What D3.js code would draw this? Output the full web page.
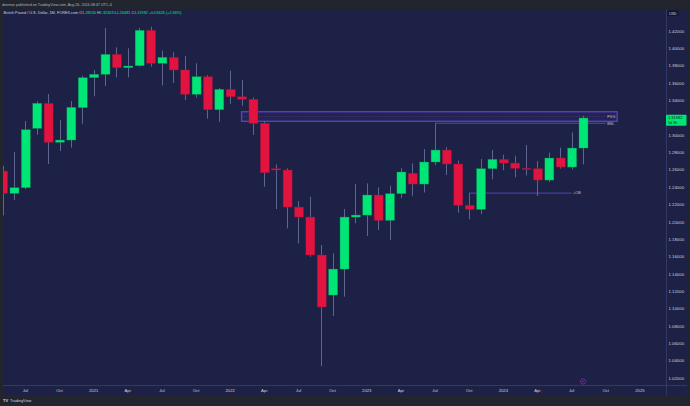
<!DOCTYPE html>
<html>
<head>
<meta charset="utf-8">
<script src="https://cdn.jsdelivr.net/npm/d3@7"></script>
<style>
  html, body { margin: 0; padding: 0; background: #22252d; }
  svg { display: block; font-family: "Liberation Sans", Arial, sans-serif; }
</style>
</head>
<body>
<svg id="chart"></svg>
<script>
// GBP/USD monthly candles
const months = ['2020-05','2020-06','2020-07','2020-08','2020-09','2020-10','2020-11','2020-12',
  '2021-01','2021-02','2021-03','2021-04','2021-05','2021-06','2021-07','2021-08','2021-09','2021-10','2021-11','2021-12',
  '2022-01','2022-02','2022-03','2022-04','2022-05','2022-06','2022-07','2022-08','2022-09','2022-10','2022-11','2022-12',
  '2023-01','2023-02','2023-03','2023-04','2023-05','2023-06','2023-07','2023-08','2023-09','2023-10','2023-11','2023-12',
  '2024-01','2024-02','2024-03','2024-04','2024-05','2024-06','2024-07','2024-08'];
const opens  = [1.2587,1.2330,1.2395,1.3079,1.3367,1.2918,1.2944,1.3317,
  1.3662,1.3701,1.3931,1.3777,1.3800,1.4208,1.3828,1.3897,1.3751,1.3471,1.3674,1.3293,
  1.3528,1.3443,1.3413,1.3137,1.2614,1.2599,1.2172,1.2057,1.1620,1.1159,1.1458,1.2057,
  1.2080,1.2311,1.2019,1.2326,1.2561,1.2437,1.2691,1.2829,1.2668,1.2192,1.2146,1.2614,
  1.2722,1.2679,1.2618,1.2614,1.2483,1.2737,1.2633,1.2852];
const highs  = [1.2648,1.2806,1.3163,1.3390,1.3474,1.3175,1.3393,1.3685,
  1.3751,1.4235,1.4012,1.4001,1.4235,1.4250,1.3973,1.3955,1.3912,1.3828,1.3693,1.3543,
  1.3743,1.3636,1.3436,1.3163,1.2664,1.2618,1.2242,1.2291,1.1735,1.1639,1.2149,1.2437,
  1.2445,1.2400,1.2418,1.2620,1.2676,1.2841,1.3137,1.2860,1.2708,1.2337,1.2725,1.2829,
  1.2775,1.2763,1.2887,1.2702,1.2798,1.2856,1.3033,1.3224];
const lows   = [1.2076,1.2253,1.2380,1.3005,1.2668,1.2817,1.2856,1.3132,
  1.3448,1.3566,1.3667,1.3667,1.3790,1.3789,1.3574,1.3601,1.3405,1.3432,1.3190,1.3155,
  1.3360,1.3340,1.3002,1.2406,1.2149,1.1927,1.1754,1.1600,1.0340,1.0917,1.1140,1.1985,
  1.1838,1.1907,1.1792,1.2273,1.2302,1.2340,1.2656,1.2541,1.2107,1.2031,1.2092,1.2493,
  1.2596,1.2515,1.2536,1.2299,1.2460,1.2615,1.2605,1.2664];
const closes = [1.2330,1.2395,1.3063,1.3367,1.2918,1.2944,1.3321,1.3662,
  1.3701,1.3931,1.3777,1.3797,1.4208,1.3828,1.3897,1.3751,1.3471,1.3674,1.3293,1.3528,
  1.3443,1.3413,1.3137,1.2568,1.2599,1.2172,1.2057,1.1620,1.1021,1.1458,1.2057,1.2080,
  1.2311,1.2019,1.2326,1.2576,1.2437,1.2691,1.2829,1.2668,1.2192,1.2146,1.2614,1.2722,
  1.2679,1.2618,1.2614,1.2483,1.2737,1.2633,1.2852,1.3198];

// axis ticks (1.32000 sits under the last-price tag, so it is not shown)
const priceTicks = [1.02,1.04,1.06,1.08,1.10,1.12,1.14,1.16,1.18,1.20,1.22,1.24,1.26,1.28,1.30,1.34,1.36,1.38,1.40,1.42];
const timeTicks = ['2020-07','2020-10','2021-01','2021-04','2021-07','2021-10','2022-01','2022-04','2022-07','2022-10',
  '2023-01','2023-04','2023-07','2023-10','2024-01','2024-04','2024-07','2024-10','2025-01'];
const timeTickLabels = ['Jul','Oct','2021','Apr','Jul','Oct','2022','Apr','Jul','Oct',
  '2023','Apr','Jul','Oct','2024','Apr','Jul','Oct','2025'];

// drawings: [start month, end month, top price, bottom price]
const fvgZone = ['2022-02','2024-11',1.3270,1.3160];
// [start month, end month, price, label]
const levels = [['2023-07','2024-10',1.3137,'BSL'],['2023-10','2024-07',1.2333,'+OB']];
const lastPrice = 1.31982;

const W = 690, H = 406;
const pane = {left: 3, top: 9, right: 666, bottom: 385};
const green = '#00e676', red = '#e3133f', bg = '#1d2145';

const monthIndex = m => { const [y, mo] = m.split('-').map(Number); return y * 12 + mo - 1; };

const svg = d3.select('#chart').attr('width', W).attr('height', H);

// Scales: TradingView spaces bars evenly, so months map linearly
const x = d3.scaleLinear()
  .domain([monthIndex('2020-10'), monthIndex('2025-01')])
  .range([59.5, 639.9]);
const y = d3.scaleLinear()
  .domain([1.02, 1.42])
  .range([378.3, 31]);
const step = x(1) - x(0);
const bodyW = step * 0.79;

// Panels
svg.append('rect').attr('width', W).attr('height', H).attr('fill', '#22252d');
svg.append('rect').attr('x', pane.left).attr('y', pane.top)
  .attr('width', 687 - pane.left).attr('height', 395 - pane.top).attr('fill', bg);
svg.append('line').attr('x1', pane.right + 0.5).attr('x2', pane.right + 0.5)
  .attr('y1', pane.top).attr('y2', 395).attr('stroke', '#313866');
svg.append('line').attr('x1', pane.left).attr('x2', 687)
  .attr('y1', pane.bottom + 0.5).attr('y2', pane.bottom + 0.5).attr('stroke', '#313866');

svg.append('defs').append('clipPath').attr('id', 'plot')
  .append('rect').attr('x', pane.left).attr('y', pane.top)
  .attr('width', pane.right - pane.left).attr('height', pane.bottom - pane.top);

const plot = svg.append('g').attr('clip-path', 'url(#plot)');

const candles = months.map((m, i) => ({m, o: opens[i], h: highs[i], l: lows[i], c: closes[i]}));

// FVG zone
const fz = plot.append('g');
fz.append('rect')
  .attr('x', x(monthIndex(fvgZone[0])))
  .attr('y', y(fvgZone[2]))
  .attr('width', x(monthIndex(fvgZone[1])) - x(monthIndex(fvgZone[0])))
  .attr('height', y(fvgZone[3]) - y(fvgZone[2]))
  .attr('fill', 'rgba(94,53,177,0.12)')
  .attr('stroke', '#5a3fc0').attr('stroke-width', 1.4);
fz.append('line')
  .attr('x1', x(monthIndex(fvgZone[0]))).attr('x2', x(monthIndex(fvgZone[1])) - 12)
  .attr('y1', y((fvgZone[2] + fvgZone[3]) / 2)).attr('y2', y((fvgZone[2] + fvgZone[3]) / 2))
  .attr('stroke', '#4a4f86').attr('stroke-width', 0.6).attr('stroke-dasharray', '1,1.5');
fz.append('text')
  .attr('x', x(monthIndex(fvgZone[1])) - 10).attr('y', y((fvgZone[2] + fvgZone[3]) / 2))
  .attr('dy', '0.35em').attr('font-size', 4).attr('fill', '#c2c5d6').text('FVG');

// Horizontal levels
const lv = plot.selectAll('.level').data(levels).join('g').attr('class', 'level');
lv.append('line')
  .attr('x1', d => x(monthIndex(d[0]))).attr('x2', d => x(monthIndex(d[1])))
  .attr('y1', d => y(d[2])).attr('y2', d => y(d[2]))
  .attr('stroke', '#5b47c4').attr('stroke-width', 0.9);
lv.append('text')
  .attr('x', d => x(monthIndex(d[1])) + 1.5).attr('y', d => y(d[2]))
  .attr('dy', '0.35em').attr('font-size', 3.8).attr('fill', '#c2c5d6').text(d => d[3]);

// Wicks
plot.selectAll('.wick').data(candles).join('line')
  .attr('class', 'wick')
  .attr('x1', d => Math.round(x(monthIndex(d.m))) + 0.5)
  .attr('x2', d => Math.round(x(monthIndex(d.m))) + 0.5)
  .attr('y1', d => y(d.h)).attr('y2', d => y(d.l))
  .attr('stroke', '#5e6590').attr('stroke-width', 1);

// Bodies
plot.selectAll('.body').data(candles).join('rect')
  .attr('class', 'body')
  .attr('x', d => x(monthIndex(d.m)) - bodyW / 2 + 0.5)
  .attr('width', bodyW)
  .attr('y', d => y(Math.max(d.o, d.c)))
  .attr('height', d => Math.max(1, y(Math.min(d.o, d.c)) - y(Math.max(d.o, d.c))))
  .attr('fill', d => d.c >= d.o ? green : red)
  .attr('stroke', d => d.c >= d.o ? '#0c8a52' : '#8e1838')
  .attr('stroke-width', 0.4);

// Price axis
const py = svg.append('g');
py.selectAll('text').data(priceTicks).join('text')
  .attr('x', 668.5).attr('y', d => y(d)).attr('dy', '0.35em')
  .attr('font-size', 4.3).attr('fill', '#d1d4dc')
  .text(d => d.toFixed(5));

// Last price label
const lp = svg.append('g');
lp.append('rect').attr('x', 666).attr('y', y(lastPrice) - 3.3).attr('width', 20.5).attr('height', 11)
  .attr('rx', 0.8).attr('fill', green);
lp.append('text').attr('x', 668).attr('y', y(lastPrice)).attr('dy', '0.35em')
  .attr('font-size', 4).attr('fill', '#0b1a12').text(lastPrice.toFixed(5));
lp.append('text').attr('x', 668).attr('y', y(lastPrice) + 4.6).attr('dy', '0.35em')
  .attr('font-size', 3.7).attr('fill', '#0b1a12').text('5d 9h');

// Currency tag
svg.append('rect').attr('x', 667.5).attr('y', 10.5).attr('width', 11).attr('height', 5.5)
  .attr('rx', 1).attr('fill', '#11142b');
svg.append('text').attr('x', 669).attr('y', 13.3).attr('dy', '0.35em')
  .attr('font-size', 3.7).attr('fill', '#d1d4dc').text('USD');

// Time axis
svg.append('g').selectAll('text').data(timeTicks).join('text')
  .attr('x', d => x(monthIndex(d)))
  .attr('y', 390.3).attr('dy', '0.35em').attr('text-anchor', 'middle')
  .attr('font-size', 4.2).attr('fill', '#d1d4dc')
  .text((d, i) => timeTickLabels[i]);

// event marker on the time axis
svg.append('circle').attr('cx', x(monthIndex('2024-08'))).attr('cy', 381.5).attr('r', 2.6)
  .attr('fill', bg).attr('stroke', '#9c27b0').attr('stroke-width', 0.7);
svg.append('circle').attr('cx', x(monthIndex('2024-08'))).attr('cy', 381.5).attr('r', 0.8)
  .attr('fill', '#9c27b0');

// Header
svg.append('text').attr('x', 2).attr('y', 4.5).attr('dy', '0.35em')
  .attr('font-size', 3.7).attr('fill', '#b2b5be')
  .text('deemzz published on TradingView.com, Aug 26, 2024 08:47 UTC-4');

// Legend
const legend = svg.append('text').attr('x', 3.5).attr('y', 13).attr('dy', '0.35em')
  .attr('font-size', 3.8).attr('fill', '#d1d4dc');
legend.append('tspan').text('British Pound / U.S. Dollar, 1M, FOREX.com  ');
[['O', '1.28556'], ['H', '1.32303'], ['L', '1.26481'], ['C', lastPrice.toFixed(5)]].forEach(([k, v]) => {
  legend.append('tspan').attr('fill', '#d1d4dc').text(k);
  legend.append('tspan').attr('fill', green).text(v + '  ');
});
legend.append('tspan').attr('fill', green).text('+0.03426 (+2.66%)');

// Footer logo
svg.append('text').attr('x', 3).attr('y', 401).attr('dy', '0.35em')
  .attr('font-size', 4).attr('font-weight', 'bold').attr('fill', '#d1d4dc').text('TV');
svg.append('text').attr('x', 10).attr('y', 401).attr('dy', '0.35em')
  .attr('font-size', 3.9).attr('fill', '#d1d4dc').text('TradingView');
</script>
</body>
</html>
